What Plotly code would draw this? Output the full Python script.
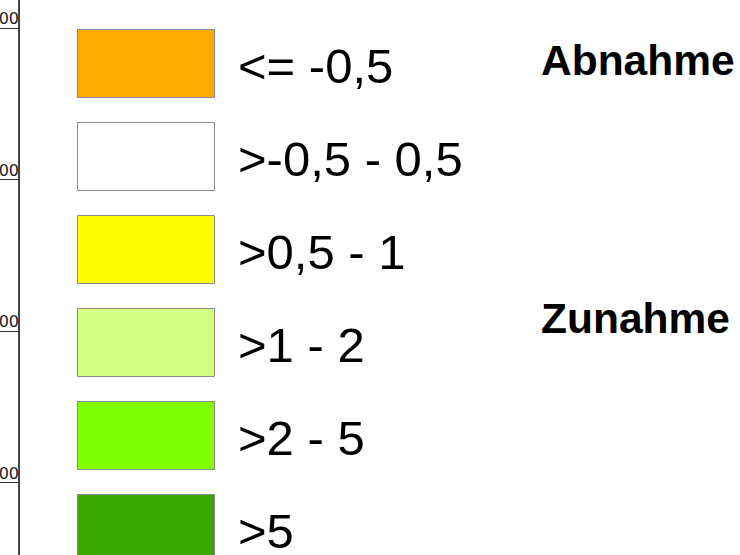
import plotly.graph_objects as go

# ---- data ----
classes = ["<= -0,5", ">-0,5 - 0,5", ">0,5 - 1", ">1 - 2", ">2 - 5", ">5"]
class_colors = ["#FFAA00", "#FFFFFF", "#FFFF00", "#D4FF80", "#80FF00", "#38A800"]
rows = [0, 1, 2, 3, 4, 5]
groups = ["Abnahme", "Zunahme"]
group_rows = [0.0, 2.78]
frame_ticks = [5000, 4000, 3000, 2000]
frame_labels = ["5000", "4000", "3000", "2000"]

fig = go.Figure()

# legend swatches
fig.add_trace(go.Bar(
    y=rows, x=[137] * len(rows), base=[78] * len(rows), orientation="h",
    width=0.731, marker=dict(color=class_colors, line=dict(color="#8a8a8a", width=1)),
    xaxis="x", yaxis="y", showlegend=False, hoverinfo="skip"))

# class labels
fig.add_trace(go.Scatter(
    x=[238] * len(rows), y=[r + 0.075 for r in rows], mode="text", text=classes,
    textposition="middle right",
    textfont=dict(family="Liberation Sans, Arial", size=49, color="#000000"),
    xaxis="x", yaxis="y", showlegend=False, hoverinfo="skip"))

# group labels
fig.add_trace(go.Scatter(
    x=[541] * len(groups), y=group_rows, mode="text", text=groups,
    textposition="middle right",
    textfont=dict(family="Liberation Sans, Arial", size=42.5, color="#000000", weight="bold"),
    xaxis="x", yaxis="y", showlegend=False, hoverinfo="skip"))

# frame tick labels (cut at left edge)
fig.add_trace(go.Scatter(
    x=[19] * len(frame_ticks), y=frame_ticks, mode="text", text=frame_labels,
    textposition="top left",
    textfont=dict(family="DejaVu Sans", size=16, color="#222222"),
    xaxis="x", yaxis="y2", showlegend=False, hoverinfo="skip"))

fig.update_layout(
    width=740, height=555,
    margin=dict(l=0, r=0, t=0, b=0),
    paper_bgcolor="white", plot_bgcolor="white",
    bargap=0,
    xaxis=dict(range=[0, 740], visible=False, fixedrange=True),
    yaxis=dict(range=[5.28, -0.688], visible=False, fixedrange=True),
    yaxis2=dict(range=[1521.5, 5184.8], overlaying="y", anchor="free", position=19 / 740,
                side="left", showline=True, linecolor="#444444", linewidth=1.5,
                ticks="outside", ticklen=19, tickwidth=1.3, tickcolor="#333333",
                tickvals=frame_ticks, showticklabels=False, showgrid=False,
                zeroline=False, fixedrange=True),
)

fig.write_html("out.html", config={"displayModeBar": False},
               post_script="document.body.style.margin='0';")
